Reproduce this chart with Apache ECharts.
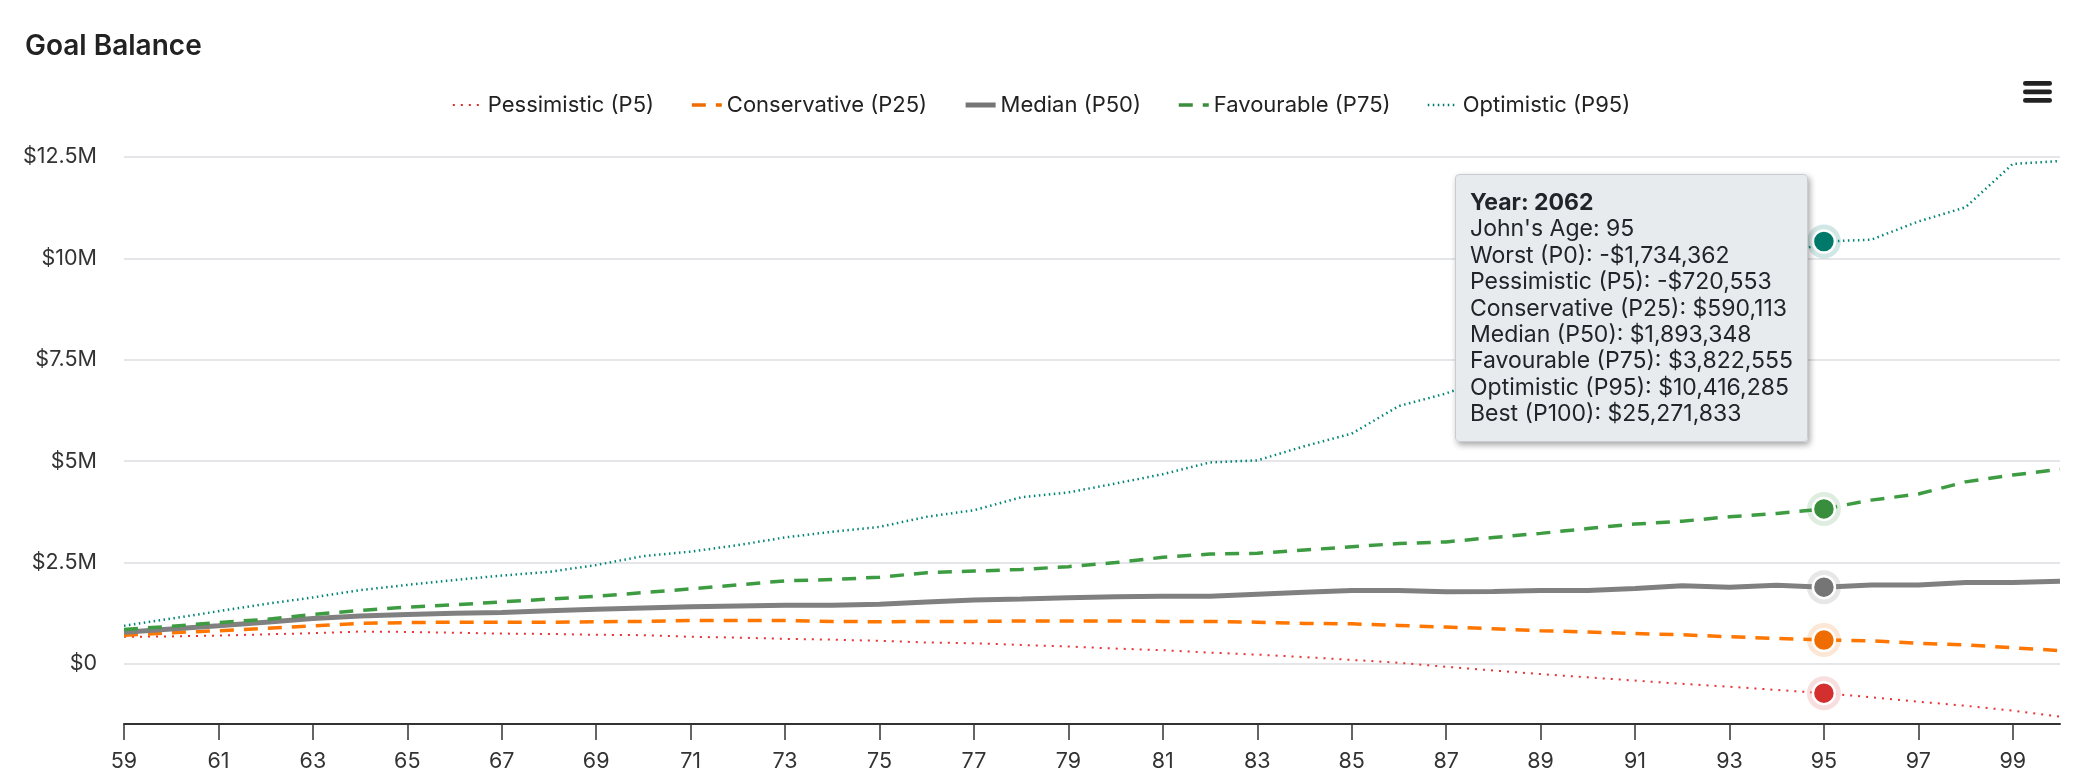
<!DOCTYPE html>
<html>
<head>
<meta charset="utf-8">
<title>Goal Balance</title>
<script src="https://cdn.jsdelivr.net/npm/echarts@6/dist/echarts.min.js"></script>
<style>
  html, body { margin: 0; padding: 0; background: #fff; }
  #goal { width: 2082px; height: 781px; }
</style>
</head>
<body>
<div id="goal"></div>
<script>
// ages on the x axis (John's age), first year is 2026
const ages = ['59', '60', '61', '62', '63', '64', '65', '66', '67', '68',
  '69', '70', '71', '72', '73', '74', '75', '76', '77', '78',
  '79', '80', '81', '82', '83', '84', '85', '86', '87', '88',
  '89', '90', '91', '92', '93', '94', '95', '96', '97', '98',
  '99', '100'];
const firstYear = 2026;

const pessimistic = [670000, 680000, 700000, 730000, 760000, 800000, 790000, 770000, 750000, 740000,
  720000, 710000, 670000, 650000, 620000, 600000, 570000, 530000, 510000, 470000,
  430000, 380000, 340000, 280000, 230000, 170000, 100000, 30000, -70000, -160000,
  -250000, -330000, -410000, -490000, -560000, -640000, -720553, -820000, -930000, -1030000,
  -1150000, -1300000];
const conservative = [710000, 770000, 820000, 880000, 940000, 1000000, 1020000, 1030000, 1030000, 1030000,
  1040000, 1050000, 1070000, 1070000, 1070000, 1050000, 1040000, 1050000, 1050000, 1060000,
  1060000, 1060000, 1050000, 1050000, 1030000, 1000000, 990000, 950000, 910000, 870000,
  820000, 790000, 750000, 720000, 670000, 630000, 590113, 570000, 510000, 470000,
  400000, 330000];
const median = [780000, 860000, 940000, 1030000, 1120000, 1180000, 1220000, 1250000, 1270000, 1310000,
  1350000, 1380000, 1410000, 1430000, 1450000, 1450000, 1470000, 1530000, 1580000, 1600000,
  1630000, 1660000, 1670000, 1670000, 1720000, 1770000, 1810000, 1810000, 1780000, 1790000,
  1810000, 1810000, 1860000, 1930000, 1890000, 1940000, 1893348, 1950000, 1950000, 2010000,
  2010000, 2040000];
const favourable = [850000, 930000, 1020000, 1100000, 1220000, 1320000, 1400000, 1460000, 1530000, 1600000,
  1670000, 1760000, 1850000, 1950000, 2050000, 2080000, 2140000, 2250000, 2290000, 2330000,
  2400000, 2500000, 2630000, 2710000, 2730000, 2810000, 2890000, 2970000, 3010000, 3120000,
  3220000, 3340000, 3450000, 3520000, 3630000, 3710000, 3822555, 4040000, 4190000, 4490000,
  4660000, 4800000];
const optimistic = [940000, 1120000, 1300000, 1480000, 1640000, 1820000, 1950000, 2070000, 2180000, 2270000,
  2440000, 2660000, 2770000, 2930000, 3120000, 3260000, 3380000, 3630000, 3790000, 4110000,
  4230000, 4450000, 4680000, 4970000, 5020000, 5370000, 5680000, 6360000, 6670000, 7100000,
  7500000, 8000000, 8400000, 8900000, 9400000, 9950000, 10416285, 10460000, 10910000, 11260000,
  12330000, 12400000];

// extra tooltip rows, only known for the hovered age
const hoverAge = '95';
const worstAtHover = -1734362;
const bestAtHover = 25271833;

const yTicks = [0, 2500000, 5000000, 7500000, 10000000, 12500000];

const font = 'Inter, "Noto Sans", "Liberation Sans", sans-serif';

function money(v) {
  const s = '$' + Math.abs(Math.round(v)).toLocaleString('en-US');
  return v < 0 ? '-' + s : s;
}

function axisMoney(v) {
  if (v === 0) return '$0';
  return '$' + (v / 1000000) + 'M';
}

const lines = [
  { name: 'Pessimistic (P5)', data: pessimistic, color: '#d32f2f', width: 2, dash: [2, 6], halo: 'rgba(211,47,47,0.2)' },
  { name: 'Conservative (P25)', data: conservative, color: '#ef6c00', width: 3.5, dash: [14, 10], halo: 'rgba(239,108,0,0.2)' },
  { name: 'Median (P50)', data: median, color: '#757575', width: 5, dash: 'solid', halo: 'rgba(117,117,117,0.22)' },
  { name: 'Favourable (P75)', data: favourable, color: '#388e3c', width: 3.5, dash: [14, 10], halo: 'rgba(56,142,60,0.2)' },
  { name: 'Optimistic (P95)', data: optimistic, color: '#00796b', width: 2.5, dash: [1.5, 3.5], halo: 'rgba(0,121,107,0.22)' }
];

const hoverIndex = ages.indexOf(hoverAge);

const series = lines.map(function (l) {
  return {
    name: l.name,
    type: 'line',
    data: l.data,
    showSymbol: false,
    symbol: 'circle',
    symbolSize: 22,
    z: 3,
    lineStyle: { color: l.color, width: l.width, type: l.dash },
    itemStyle: { color: l.color },
    emphasis: {
      scale: false,
      lineStyle: { width: l.width },
      itemStyle: { color: l.color, borderColor: '#ffffff', borderWidth: 2.5 }
    }
  };
});

// soft halos behind the hovered points
series.push({
  name: 'halo',
  type: 'scatter',
  silent: true,
  z: 1,
  symbolSize: 34,
  emphasis: { disabled: true },
  tooltip: { show: false },
  data: lines.map(function (l) {
    return { value: [hoverIndex, l.data[hoverIndex]], itemStyle: { color: l.halo } };
  })
});

const chart = echarts.init(document.getElementById('goal'));

const option = {
  animation: false,
  textStyle: { fontFamily: font },
  title: {
    text: 'Goal Balance',
    left: 20,
    top: 28,
    textStyle: { fontFamily: font, fontSize: 28, fontWeight: 600, color: '#222' }
  },
  legend: {
    data: lines.map(function (l) { return { name: l.name, lineStyle: { width: l.width } }; }),
    top: 89,
    left: 'center',
    itemWidth: 30,
    itemHeight: 14,
    itemGap: 36,
    itemStyle: { opacity: 0 },
    lineStyle: { width: 'inherit' },
    textStyle: { fontFamily: font, fontSize: 22, color: '#222' }
  },
  grid: { left: 124, right: 22, top: 157, bottom: 57 },
  tooltip: {
    trigger: 'axis',
    triggerOn: 'none',
    alwaysShowContent: true,
    transitionDuration: 0,
    position: [1455, 174],
    axisPointer: { type: 'line', lineStyle: { color: 'rgba(0,0,0,0)' } },
    backgroundColor: 'rgba(232,235,238,0.98)',
    borderColor: '#c9cdd1',
    borderWidth: 1,
    padding: [14, 14],
    textStyle: { fontFamily: font, fontSize: 23, color: '#212529' },
    extraCssText: 'border-radius:4px;box-shadow:2px 3px 6px rgba(0,0,0,0.35);',
    formatter: function (params) {
      const i = params[0].dataIndex;
      const rows = ['<b>Year: ' + (firstYear + i) + '</b>', "John's Age: " + ages[i]];
      if (ages[i] === hoverAge) rows.push('Worst (P0): ' + money(worstAtHover));
      lines.forEach(function (l) { rows.push(l.name + ': ' + money(l.data[i])); });
      if (ages[i] === hoverAge) rows.push('Best (P100): ' + money(bestAtHover));
      return '<div style="line-height:26.4px">' + rows.join('<br/>') + '</div>';
    }
  },
  xAxis: {
    type: 'category',
    data: ages,
    boundaryGap: false,
    axisLine: { onZero: false, lineStyle: { color: '#333', width: 2 } },
    axisTick: { interval: 1, length: 16, lineStyle: { color: '#333', width: 1.5 } },
    axisLabel: { interval: 1, margin: 27, fontFamily: font, fontSize: 21.5, color: '#333' },
    splitLine: { show: false }
  },
  yAxis: {
    type: 'value',
    min: -1480000,
    max: yTicks[yTicks.length - 1],
    minInterval: yTicks[1] - yTicks[0],
    maxInterval: yTicks[1] - yTicks[0],
    splitNumber: yTicks.length - 1,
    axisLine: { show: false },
    axisTick: { show: false },
    axisLabel: {
      showMinLabel: false,
      margin: 27,
      fontFamily: font,
      fontSize: 21.5,
      color: '#333',
      formatter: axisMoney
    },
    splitLine: { lineStyle: { color: '#e4e6ea', width: 2 } }
  },
  graphic: [{
    type: 'group',
    right: 30,
    top: 81,
    children: [0, 1, 2].map(function (k) {
      return {
        type: 'rect',
        shape: { x: 0, y: k * 8.5, width: 29, height: 4.8, r: 2.4 },
        style: { fill: '#222' }
      };
    })
  }],
  series: series
};

chart.setOption(option);
chart.dispatchAction({ type: 'showTip', seriesIndex: 0, dataIndex: hoverIndex });
</script>
</body>
</html>
